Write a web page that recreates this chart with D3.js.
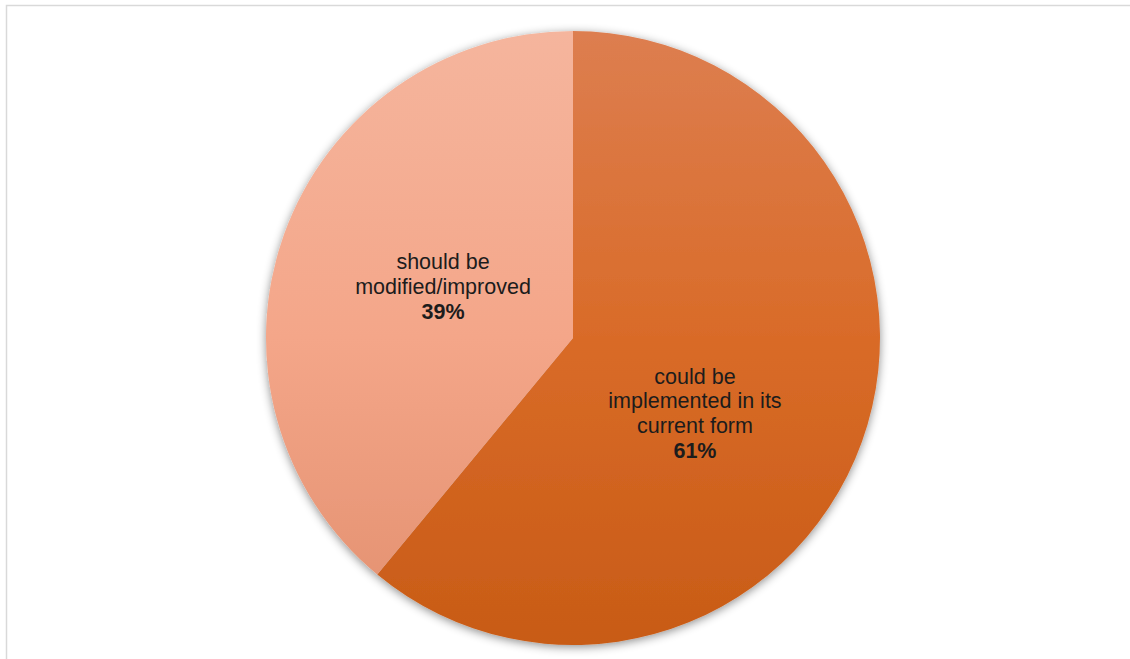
<!DOCTYPE html>
<html><head><meta charset="utf-8">
<script src="https://cdn.jsdelivr.net/npm/d3@7"></script>
<style>body{margin:0;background:#fff;overflow:hidden}svg{display:block}</style>
</head><body>
<script>
const categories = ["could be implemented in its current form", "should be modified/improved"];
const labelLines = [["could be", "implemented in its", "current form"], ["should be", "modified/improved"]];
const values = [61, 39];
const percentLabels = ["61%", "39%"];

const W = 1130, H = 659;
const cx = 573, cy = 338, R = 307;
const svg = d3.select("body").append("svg").attr("width", W).attr("height", H);
const defs = svg.append("defs");

const grads = [
  {id: "g0", stops: ["#dd7e50", "#d96b28", "#c85b16"]},
  {id: "g1", stops: ["#f5b59d", "#f4a689", "#e28f6e"]}
];
grads.forEach(g => {
  const lg = defs.append("linearGradient").attr("id", g.id)
    .attr("gradientUnits", "userSpaceOnUse")
    .attr("x1", 0).attr("y1", -R).attr("x2", 0).attr("y2", R);
  g.stops.forEach((c, i) => lg.append("stop").attr("offset", i / (g.stops.length - 1)).attr("stop-color", c));
});
const f = defs.append("filter").attr("id", "sh").attr("x", "-10%").attr("y", "-10%").attr("width", "120%").attr("height", "120%");
f.append("feDropShadow").attr("dx", 0).attr("dy", 2).attr("stdDeviation", 5).attr("flood-color", "#000").attr("flood-opacity", 0.45);

svg.append("rect").attr("x", 6.5).attr("y", 5.5).attr("width", W + 10).attr("height", H + 10)
  .attr("fill", "#fff").attr("stroke", "#d9d9d9").attr("stroke-width", 1.5);

const pie = d3.pie().sort(null).value(d => d)(values);
const arc = d3.arc().innerRadius(0).outerRadius(R);
const labelArc = d3.arc().innerRadius(R * 0.45).outerRadius(R * 0.45);

const g = svg.append("g").attr("transform", `translate(${cx},${cy})`);
const shadowG = g.append("g").attr("filter", "url(#sh)");
shadowG.selectAll("path").data(pie).join("path")
  .attr("d", arc)
  .attr("fill", (d, i) => `url(#g${i})`);

const offsets = [[-8, 29], [0, -4]];
const lh = 24.8;
pie.forEach((d, i) => {
  const [x, y] = labelArc.centroid(d);
  const lines = labelLines[i].concat([percentLabels[i]]);
  const n = lines.length;
  const t = g.append("text")
    .attr("text-anchor", "middle")
    .attr("font-family", "Liberation Sans, Arial, sans-serif")
    .attr("font-size", 21.5)
    .attr("fill", "#1c1c1c");
  lines.forEach((ln, k) => {
    t.append("tspan")
      .attr("x", x + offsets[i][0])
      .attr("y", y + offsets[i][1] + (k - (n - 1) / 2) * lh + 7)
      .attr("font-weight", k === n - 1 ? "bold" : "normal")
      .text(ln);
  });
});
</script>
</body></html>
